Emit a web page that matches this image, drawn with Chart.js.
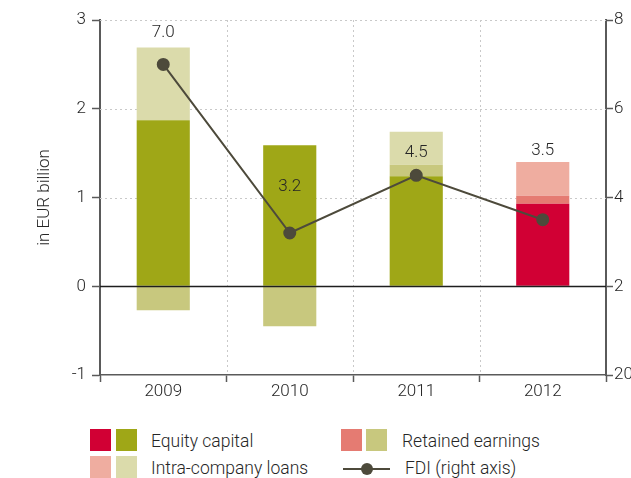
<!DOCTYPE html>
<html>
<head>
<meta charset="utf-8">
<script src="https://cdn.jsdelivr.net/npm/chart.js@4"></script>
<style>
    body { margin: 0; background: #fff; font-family: Roboto, "Liberation Sans", sans-serif; color: #262626; }
    #wrap { position: relative; width: 631px; height: 478px; overflow: hidden; }
    #chartBox { position: absolute; left: 0; top: 0; width: 631px; height: 400px; }
    .sw { position: absolute; width: 21px; height: 22px; }
    .lbl { position: absolute; font-size: 17.5px; font-weight: 300; line-height: 22px; white-space: nowrap; }
</style>
</head>
<body>
<div id="wrap">
    <div id="chartBox"><canvas id="fdiChart"></canvas></div>

    <div class="sw" style="left:90px;top:429px;background:#d10034"></div>
    <div class="sw" style="left:116px;top:429px;background:#9fa717"></div>
    <div class="lbl" style="left:151px;top:430px">Equity capital</div>

    <div class="sw" style="left:90px;top:456px;background:#efada0"></div>
    <div class="sw" style="left:116px;top:456px;background:#dbdbab"></div>
    <div class="lbl" style="left:151px;top:457px">Intra-company loans</div>

    <div class="sw" style="left:341px;top:429px;background:#e57b72"></div>
    <div class="sw" style="left:366px;top:429px;background:#c8c87e"></div>
    <div class="lbl" style="left:402px;top:430px">Retained earnings</div>

    <div style="position:absolute;left:343px;top:468px;width:47px;height:2px;background:#4d4a3b"></div>
    <div style="position:absolute;left:361px;top:463px;width:12px;height:12px;border-radius:50%;background:#4d4a3b"></div>
    <div class="lbl" style="left:405px;top:457px">FDI (right axis)</div>
</div>

<script>
const years = ['2009', '2010', '2011', '2012'];
const equityCapital = [1.87, 1.59, 1.24, 0.93];
const retainedEarnings = [-0.27, -0.45, 0.13, 0.09];
const intraCompanyLoans = [0.82, 0, 0.37, 0.38];
const fdiTotal = [7.0, 3.2, 4.5, 3.5];
const leftTicks = [-1, 0, 1, 2, 3];
const rightTickLabels = ['20', '2', '4', '6', '8'];

// pixel lift of each FDI value label above its point
const fdiLabelLift = [32, 46, 23, 69];

const oliveSet = { equity: '#9fa717', retained: '#c8c87e', loans: '#dbdbab' };
const redSet = { equity: '#d10034', retained: '#e57b72', loans: '#efada0' };
const TEXT = '#262626';
const AXIS = '#5a5a5a';
const FONT = 'Roboto, "Liberation Sans", sans-serif';

function colorsFor(key) {
    return years.map(y => (y === '2012' ? redSet[key] : oliveSet[key]));
}

const gridPlugin = {
    id: 'dottedGrid',
    beforeDatasetsDraw(chart) {
        const ctx = chart.ctx;
        const area = chart.chartArea;
        const y = chart.scales.y;
        const x = chart.scales.x;
        ctx.save();
        ctx.strokeStyle = '#c9c9c9';
        ctx.lineWidth = 1;
        ctx.setLineDash([2, 3]);
        leftTicks.forEach(v => {
            if (v <= 0) return;
            const py = Math.round(y.getPixelForValue(v)) + 0.5;
            ctx.beginPath();
            ctx.moveTo(area.left, py);
            ctx.lineTo(area.right, py);
            ctx.stroke();
        });
        for (let i = 1; i < years.length; i++) {
            const px = Math.round((x.getPixelForValue(i - 1) + x.getPixelForValue(i)) / 2) + 0.5;
            ctx.beginPath();
            ctx.moveTo(px, area.top);
            ctx.lineTo(px, area.bottom);
            ctx.stroke();
        }
        ctx.restore();
    },
    afterDatasetsDraw(chart) {
        const ctx = chart.ctx;
        const area = chart.chartArea;
        const zero = Math.round(chart.scales.y.getPixelForValue(0)) + 0.5;
        ctx.save();
        ctx.strokeStyle = '#1e1e1e';
        ctx.lineWidth = 1.5;
        ctx.beginPath();
        ctx.moveTo(area.left, zero);
        ctx.lineTo(area.right, zero);
        ctx.stroke();

        const meta = chart.getDatasetMeta(3);
        ctx.font = '300 17px ' + FONT;
        ctx.fillStyle = TEXT;
        ctx.textAlign = 'center';
        ctx.textBaseline = 'middle';
        meta.data.forEach((pt, i) => {
            ctx.fillText(fdiTotal[i].toFixed(1), pt.x, pt.y - fdiLabelLift[i]);
        });
        ctx.restore();
    }
};

const canvas = document.getElementById('fdiChart');
new Chart(canvas, {
    data: {
        labels: years,
        datasets: [
            {
                type: 'bar',
                label: 'Equity capital',
                data: equityCapital,
                backgroundColor: colorsFor('equity'),
                yAxisID: 'y',
                order: 2
            },
            {
                type: 'bar',
                label: 'Retained earnings',
                data: retainedEarnings,
                backgroundColor: colorsFor('retained'),
                yAxisID: 'y',
                order: 2
            },
            {
                type: 'bar',
                label: 'Intra-company loans',
                data: intraCompanyLoans,
                backgroundColor: colorsFor('loans'),
                yAxisID: 'y',
                order: 2
            },
            {
                type: 'line',
                label: 'FDI (right axis)',
                data: fdiTotal,
                yAxisID: 'y2',
                borderColor: '#4d4a3b',
                backgroundColor: '#4d4a3b',
                borderWidth: 2,
                pointRadius: 5.5,
                pointHoverRadius: 5.5,
                tension: 0,
                order: 1
            }
        ]
    },
    plugins: [gridPlugin],
    options: {
        responsive: true,
        maintainAspectRatio: false,
        animation: false,
        layout: { padding: { top: 20, left: 0, right: 0, bottom: 0 } },
        datasets: {
            bar: { categoryPercentage: 1, barPercentage: 0.42 }
        },
        plugins: {
            legend: { display: false },
            tooltip: { enabled: false }
        },
        scales: {
            x: {
                stacked: true,
                offset: true,
                grid: {
                    offset: true,
                    drawOnChartArea: false,
                    drawTicks: true,
                    tickLength: 7,
                    tickColor: AXIS,
                    tickWidth: 1.5
                },
                border: { display: true, color: AXIS, width: 1.5 },
                ticks: { color: TEXT, font: { family: FONT, size: 17, weight: 300 }, padding: 0 },
                afterFit: s => { s.height = 25; }
            },
            y: {
                position: 'left',
                stacked: true,
                min: -1,
                max: 3,
                afterBuildTicks: s => { s.ticks = leftTicks.map(v => ({ value: v })); },
                grid: {
                    drawOnChartArea: false,
                    drawTicks: true,
                    tickLength: 8,
                    tickColor: AXIS,
                    tickWidth: 1.5
                },
                border: { display: true, color: AXIS, width: 2 },
                ticks: { color: TEXT, font: { family: FONT, size: 17, weight: 300 }, padding: 6 },
                title: {
                    display: true,
                    text: 'in EUR billion',
                    color: TEXT,
                    font: { family: FONT, size: 17, weight: 300 },
                    padding: { top: 35, bottom: 0 }
                },
                afterFit: s => { s.width = 100; }
            },
            y2: {
                position: 'right',
                min: 0,
                max: 8,
                afterBuildTicks: s => { s.ticks = rightTickLabels.map((t, i) => ({ value: i * 2 })); },
                grid: {
                    drawOnChartArea: false,
                    drawTicks: true,
                    tickLength: 7,
                    tickColor: AXIS,
                    tickWidth: 1.5
                },
                border: { display: true, color: AXIS, width: 2 },
                ticks: {
                    color: TEXT,
                    font: { family: FONT, size: 17, weight: 300 },
                    padding: 1,
                    callback: (v, i) => rightTickLabels[i]
                },
                afterFit: s => { s.width = 25; }
            }
        }
    }
});
</script>
</body>
</html>
